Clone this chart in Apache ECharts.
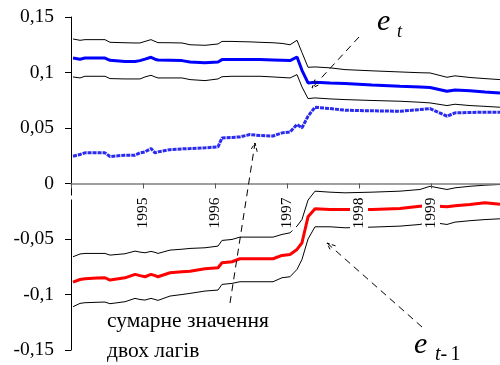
<!DOCTYPE html>
<html>
<head>
<meta charset="utf-8">
<script src="https://cdn.jsdelivr.net/npm/echarts@6/dist/echarts.min.js"></script>
<style>html,body{margin:0;padding:0;background:#fff}#c{width:500px;height:365px}</style>
</head>
<body>
<div id="c"></div>
<script>
// time points (decimal years)
const years = [1994.028,1994.125,1994.194,1994.361,1994.472,1994.542,1994.750,1994.889,1994.958,1995.028,
  1995.111,1995.167,1995.208,1995.375,1995.542,1995.653,1995.861,1996.042,1996.097,1996.236,
  1996.347,1996.486,1996.625,1996.806,1996.931,1997.042,1997.139,1997.208,1997.292,1997.389,
  1997.597,1997.806,1998.181,1998.569,1998.847,1998.986,1999.222,1999.333,1999.542,1999.750,1999.958];

// e_t coefficient and its bands
const etMid = [0.113,0.112,0.113,0.113,0.113,0.111,0.110,0.110,0.1107,0.112,
  0.1137,0.112,0.1113,0.111,0.1107,0.1095,0.1088,0.1095,0.1116,0.1116,
  0.1116,0.1116,0.1116,0.1113,0.1110,0.1107,0.1140,0.102,0.0906,0.0913,
  0.0905,0.090,0.0888,0.0876,0.0870,0.0865,0.0831,0.0843,0.0835,0.0825,0.0816];
const etUp = [0.1302,0.129,0.1296,0.1296,0.1296,0.1272,0.1268,0.1266,0.1266,0.128,
  0.1296,0.128,0.1269,0.1268,0.1266,0.125,0.1245,0.1257,0.128,0.128,
  0.1278,0.1276,0.1272,0.1268,0.1262,0.125,0.129,0.118,0.1047,0.105,
  0.1042,0.1026,0.1015,0.1005,0.0998,0.0996,0.0957,0.097,0.0955,0.0945,0.0936];
const etLow = [0.096,0.0951,0.0966,0.0966,0.0966,0.0945,0.0942,0.0942,0.0942,0.096,
  0.0975,0.096,0.0951,0.0951,0.0951,0.0936,0.0927,0.0942,0.0962,0.0966,
  0.0966,0.0966,0.0966,0.096,0.0955,0.0951,0.0981,0.087,0.0765,0.0771,
  0.0762,0.0756,0.0748,0.0741,0.0732,0.0726,0.0702,0.0714,0.0702,0.0695,0.0687];

// sum of two lags
const sumLags = [0.0246,0.0261,0.0276,0.0276,0.0276,0.0243,0.0255,0.0255,0.0276,0.0285,
  0.0315,0.0276,0.0285,0.0305,0.0312,0.0315,0.0321,0.033,0.0411,0.0415,
  0.042,0.0441,0.0432,0.0428,0.0456,0.0465,0.0531,0.0501,0.0606,0.0687,
  0.0675,0.066,0.0655,0.0651,0.0666,0.0675,0.0606,0.0636,0.0640,0.0642,0.0642];

// e_{t-1} coefficient and its bands
const et1Mid = [-0.0888,-0.0865,-0.0858,-0.0852,-0.0849,-0.087,-0.085,-0.0819,-0.083,-0.084,
  -0.0819,-0.083,-0.084,-0.0804,-0.0795,-0.079,-0.0768,-0.0759,-0.0714,-0.0705,
  -0.0678,-0.0678,-0.0678,-0.0678,-0.0648,-0.0639,-0.0594,-0.0534,-0.030,-0.0228,
  -0.0234,-0.0234,-0.0234,-0.0225,-0.0205,-0.0200,-0.0210,-0.0200,-0.0190,-0.0174,-0.0186];
const et1Up = [-0.066,-0.0635,-0.063,-0.063,-0.063,-0.0645,-0.0633,-0.0609,-0.0618,-0.0624,
  -0.0612,-0.062,-0.063,-0.060,-0.0592,-0.0585,-0.0579,-0.0564,-0.0513,-0.0504,
  -0.0483,-0.0483,-0.0483,-0.0483,-0.0459,-0.0444,-0.0384,-0.0324,-0.015,-0.0069,
  -0.0078,-0.0084,-0.0078,-0.0069,-0.0054,-0.0025,-0.0054,-0.0039,-0.0025,-0.0015,-0.0009];
const et1Low = [-0.111,-0.108,-0.1074,-0.107,-0.1068,-0.1083,-0.1065,-0.1035,-0.1045,-0.105,
  -0.1035,-0.1045,-0.1053,-0.1014,-0.100,-0.099,-0.0969,-0.096,-0.0909,-0.090,
  -0.0885,-0.0885,-0.0885,-0.0885,-0.0849,-0.084,-0.0774,-0.0684,-0.050,-0.039,
  -0.039,-0.0399,-0.0393,-0.0384,-0.0369,-0.0348,-0.0369,-0.0348,-0.0335,-0.0325,-0.0318];

const yTicks = [-0.15,-0.1,-0.05,0,0.05,0.1,0.15];
const xTickYears = [1995,1996,1997,1998,1999];

const serif = "Liberation Serif";
const pair = arr => years.map((y,i)=>[y,arr[i]]);

function lineSeries(arr, color, width, type) {
  return { type:'line', data: pair(arr), symbol:'none', silent:true,
    lineStyle:{color:color, width:width, type:type||'solid'}, z:2 };
}

function arrow(x1,y1,x2,y2){
  const a = Math.atan2(y2-y1, x2-x1), L = 9, s = 0.4;
  const w1 = [x2 - L*Math.cos(a-s), y2 - L*Math.sin(a-s)];
  const w2 = [x2 - L*Math.cos(a+s), y2 - L*Math.sin(a+s)];
  return [
    {type:'polyline', shape:{points:[[x1,y1],[x2,y2]]}, style:{stroke:'#000', lineWidth:1, lineDash:[7,5], fill:null}, z:20},
    {type:'polyline', shape:{points:[w1,[x2,y2],w2]}, style:{stroke:'#000', lineWidth:1, lineDash:[4,2], fill:null}, z:20}
  ];
}

const GRID_H = 333; // plot height (px), y range -0.15..0.15
const chart = echarts.init(document.getElementById('c'), null, {renderer:'canvas'});
chart.setOption({
  animation:false,
  backgroundColor:'#fff',
  textStyle:{fontFamily:serif},
  grid:{left:71, top:17, width:432, bottom:15, containLabel:false, outerBoundsMode:'none'},
  xAxis:{
    type:'value', min:1994, max:2000, interval:1, z:10,
    position:'bottom', offset:-GRID_H/2,
    axisLine:{onZero:false, lineStyle:{color:'#808080', width:1.5}},
    axisTick:{show:true, length:5, lineStyle:{color:'#555'}},
    splitLine:{show:false},
    axisLabel:{
      rotate:90, margin:12, fontSize:15.5, fontFamily:serif, color:'#000',
      backgroundColor:'#fff', padding:[1,2,1,2],
      formatter: v => xTickYears.indexOf(Math.round(v))>=0 ? String(Math.round(v)) : ''
    }
  },
  yAxis:{
    type:'value', min:-0.15, max:0.15, interval:0.05,
    axisLine:{show:true, lineStyle:{color:'#000', width:1}},
    axisTick:{show:true, length:6, lineStyle:{color:'#000'}},
    splitLine:{show:false},
    axisLabel:{
      margin:17, fontSize:19.5, fontFamily:serif, color:'#000',
      formatter: v => { const r = Math.round(v*100)/100; return String(r).replace('.',','); }
    }
  },
  series:[
    lineSeries(etUp,'#000',1),
    lineSeries(etLow,'#000',1),
    lineSeries(etMid,'#0000ff',3),
    lineSeries(sumLags,'#2a2af0',3,[4,1]),
    lineSeries(et1Up,'#000',1),
    lineSeries(et1Low,'#000',1),
    lineSeries(et1Mid,'#ff0000',3)
  ],
  graphic:[].concat(
    arrow(359,37,312,88),
    arrow(422,327,327,243),
    arrow(230,303,255,143),
    [
      {type:'text', x:377, y:22, style:{text:'e', font:'italic 30px '+serif, fill:'#000', verticalAlign:'middle'}, z:20},
      {type:'text', x:397, y:32, style:{text:'t', font:'italic 18px '+serif, fill:'#000', verticalAlign:'middle'}, z:20},
      {type:'text', x:414, y:345, style:{text:'e', font:'italic 30px '+serif, fill:'#000', verticalAlign:'middle'}, z:20},
      {type:'text', x:435, y:355, style:{text:'{i|t-} {n|1}', fill:'#000', verticalAlign:'middle',
        rich:{i:{font:'italic 20px '+serif, fill:'#000'}, n:{font:'20px '+serif, fill:'#000'}}}, z:20},
      {type:'text', x:107, y:321, style:{text:'сумарне значення', font:'21.5px '+serif, fill:'#000', verticalAlign:'middle'}, z:20},
      {type:'text', x:107, y:351, style:{text:'двох лагів', font:'21.5px '+serif, fill:'#000', verticalAlign:'middle'}, z:20}
    ]
  )
});
</script>
</body>
</html>
